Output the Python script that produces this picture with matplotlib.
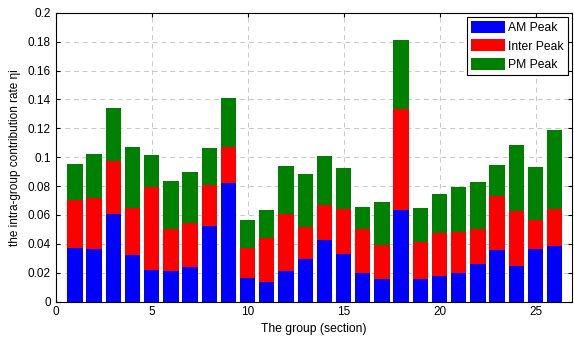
import numpy as np
import matplotlib
matplotlib.use("Agg")
import matplotlib.pyplot as plt

plt.rcParams['font.family'] = ['Liberation Sans', 'DejaVu Sans']

# ----------------- Data -----------------
groups = np.arange(1, 27)
am_top = [0.0371, 0.0367, 0.0609, 0.0323, 0.0221, 0.0212, 0.0240, 0.0526, 0.0821, 0.0166,
          0.0138, 0.0212, 0.0298, 0.0429, 0.0332, 0.0198, 0.0157, 0.0634, 0.0157, 0.0180,
          0.0198, 0.0263, 0.0360, 0.0249, 0.0364, 0.0388]
inter_top = [0.0706, 0.0720, 0.0971, 0.0651, 0.0794, 0.0505, 0.0547, 0.0810, 0.1073, 0.0374,
             0.0443, 0.0609, 0.0517, 0.0669, 0.0641, 0.0503, 0.0392, 0.1333, 0.0415, 0.0475,
             0.0482, 0.0503, 0.0734, 0.0627, 0.0567, 0.0641]
pm_top = [0.0953, 0.1022, 0.1340, 0.1073, 0.1015, 0.0835, 0.0897, 0.1066, 0.1410, 0.0565,
          0.0634, 0.0939, 0.0884, 0.1010, 0.0925, 0.0657, 0.0690, 0.1813, 0.0646, 0.0747,
          0.0794, 0.0828, 0.0946, 0.1082, 0.0932, 0.1188]

am = np.array(am_top)
inter = np.array(inter_top) - am
pm = np.array(pm_top) - np.array(inter_top)

# ----------------- Plot -----------------
fig = plt.figure(figsize=(5.74, 3.37), dpi=100)
ax = fig.add_axes([0.097, 0.105, 0.8995, 0.857])

ax.bar(groups, am, width=0.8, color='#0000ff', label='AM Peak', zorder=2)
ax.bar(groups, inter, width=0.8, bottom=am, color='#ff0000', label='Inter Peak', zorder=2)
ax.bar(groups, pm, width=0.8, bottom=am + inter, color='#008000', label='PM Peak', zorder=2)

ax.set_xlim(0, 26.9)
ax.set_ylim(0, 0.2)
ax.set_xticks([0, 5, 10, 15, 20, 25])
ax.set_yticks(np.arange(0, 0.201, 0.02))
ax.set_yticklabels(['0', '0.02', '0.04', '0.06', '0.08', '0.1', '0.12', '0.14', '0.16', '0.18', '0.2'])
ax.tick_params(direction='in', top=True, right=True, labelsize=8.5, length=3)
ax.grid(True, linestyle=(0, (5, 4)), color='#c8c8c8', linewidth=0.7, zorder=0)
ax.set_axisbelow(True)

ax.set_xlabel('The group (section)', fontsize=8.7, labelpad=3)
ax.set_ylabel('the intra-group contribution rate \u03b7i', fontsize=8.5, labelpad=5)

leg = ax.legend(loc='upper right', fontsize=8.7, fancybox=False, framealpha=1,
                edgecolor='black', borderaxespad=0.35, handlelength=2.8,
                handleheight=1.15, labelspacing=0.42, handletextpad=0.25, borderpad=0.35)
leg.get_frame().set_linewidth(0.8)

plt.savefig('out.png', dpi=100)
